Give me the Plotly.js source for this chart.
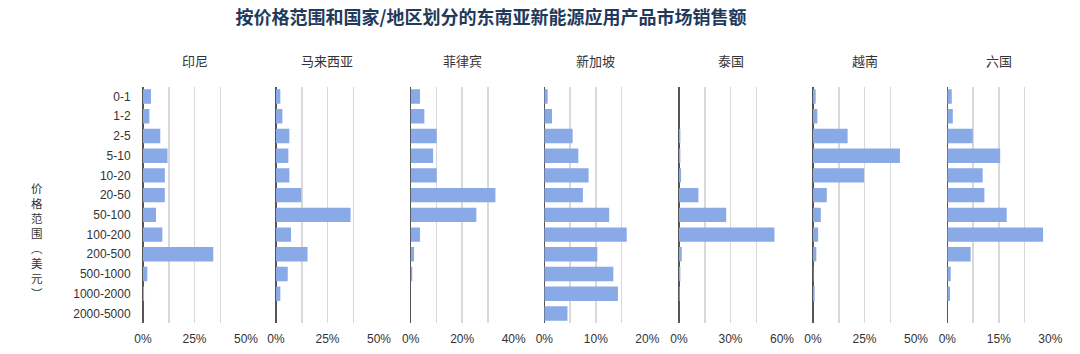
<!DOCTYPE html>
<html>
<head>
<meta charset="utf-8">
<script src="https://cdn.plot.ly/plotly-3.0.1.min.js"></script>
<style>html,body{margin:0;padding:0;background:#fff;}#chart{width:1080px;height:354px;}</style>
</head>
<body>
<div id="chart"></div>
<script>
// Price ranges (USD)
const categories = ['0-1','1-2','2-5','5-10','10-20','20-50','50-100','100-200','200-500','500-1000','1000-2000','2000-5000'];
// Country / region names
const countries = ['印尼','马来西亚','菲律宾','新加坡','泰国','越南','六国'];
// Share of market sales by price range (%)
const indonesia   = [3.9, 3.1, 8.4, 11.9, 10.6, 10.6, 6.3, 9.4, 34.1, 2.1, 0.5, 0];
const malaysia    = [2.1, 3.1, 6.5, 6.0, 6.5, 12.3, 36.2, 7.3, 15.3, 5.7, 2.1, 0];
const philippines = [3.6, 5.3, 10.1, 8.7, 10.1, 32.9, 25.5, 3.6, 1.3, 0.6, 0, 0];
const singapore   = [0.65, 1.5, 5.5, 6.6, 8.6, 7.5, 12.6, 16.0, 10.3, 13.4, 14.3, 4.5];
const thailand    = [0, 0, 0.8, 0.8, 1.2, 11.3, 27.5, 55.6, 1.6, 0.8, 0.4, 0];
const vietnam     = [1.3, 2.1, 16.8, 42.2, 24.8, 6.7, 3.8, 2.5, 1.6, 0.2, 0.8, 0];
const sixCountries= [1.3, 1.6, 7.4, 15.4, 10.3, 10.8, 17.3, 27.9, 6.8, 1.0, 0.8, 0];
const seriesList = [indonesia, malaysia, philippines, singapore, thailand, vietnam, sixCountries];
// Axis maxima and label step per panel (%)
const axisMax  = [50, 50, 40, 20, 60, 50, 30];
const tickStep = [25, 25, 20, 10, 30, 25, 15];
// Vertical y-axis title, one glyph per line
const yTitleChars = ['价','格','范','围','︵','美','元','︶'];

const W = 1080, H = 354;
const panelLeft = [143, 276, 410.7, 544.3, 679, 813, 947.3];
const panelW = 103;
const yTop = 86.7, yBot = 323.3;
const yDom = [(H - yBot) / H, (H - yTop) / H];

const font = 'Liberation Sans, Arial, "Noto Sans CJK SC", sans-serif';
const cjk = '"Noto Sans CJK SC", "Liberation Sans", sans-serif';

const traces = [];
const layout = {
  width: W, height: H,
  margin: {l: 0, r: 0, t: 0, b: 0},
  paper_bgcolor: '#fff', plot_bgcolor: '#fff',
  showlegend: false,
  bargap: 0.27,
  font: {family: font, size: 12, color: '#333'},
  title: {
    text: '按价格范围和国家/地区划分的东南亚新能源应用产品市场销售额',
    x: 491 / W, xanchor: 'center', y: 1 - 18 / H, yanchor: 'middle',
    font: {family: cjk, size: 18, color: '#1f3a5c', weight: 'bold'}
  },
  yaxis: {
    type: 'category', categoryorder: 'array', categoryarray: categories,
    range: [categories.length - 0.5, -0.5],
    domain: yDom, anchor: 'x',
    showgrid: false, zeroline: false, showline: false,
    ticks: 'outside', ticklen: 9, tickcolor: 'rgba(0,0,0,0)',
    tickfont: {family: font, size: 12, color: '#333'},
    fixedrange: true
  },
  annotations: []
};

countries.forEach((name, i) => {
  const ax = i === 0 ? 'x' : 'x' + (i + 1);
  traces.push({
    type: 'bar', orientation: 'h',
    x: seriesList[i], y: categories,
    xaxis: ax, yaxis: 'y',
    marker: {color: '#89a9e7'},
    hoverinfo: 'x+y'
  });
  const d0 = panelLeft[i] / W, d1 = (panelLeft[i] + panelW) / W;
  layout[i === 0 ? 'xaxis' : 'xaxis' + (i + 1)] = {
    domain: [d0, d1], anchor: 'y',
    range: [0, axisMax[i]],
    tick0: 0, dtick: tickStep[i], ticksuffix: '%',
    showgrid: true, gridcolor: '#d9d9d9', gridwidth: 1.5,
    minor: {dtick: tickStep[i] / 2, showgrid: true, gridcolor: '#d9d9d9', gridwidth: 1.5, ticks: ''},
    zeroline: true, zerolinecolor: '#555', zerolinewidth: 1.5,
    showline: false,
    ticks: 'outside', ticklen: 4, tickcolor: 'rgba(0,0,0,0)',
    tickfont: {family: font, size: 12, color: '#333'},
    fixedrange: true
  };
  layout.annotations.push({
    text: name, xref: 'paper', yref: 'paper',
    x: (d0 + d1) / 2, y: 1 - 60 / H, xanchor: 'center', yanchor: 'middle',
    showarrow: false, font: {family: cjk, size: 13, color: '#333'}
  });
});

// vertical y-axis title: upright glyphs stacked in one text block
layout.annotations.push({
  text: yTitleChars.join('<br>'),
  xref: 'paper', yref: 'paper', x: 37 / W, y: 1 - 240 / H,
  xanchor: 'center', yanchor: 'middle', showarrow: false,
  font: {family: cjk, size: 11.5, color: '#333'}
});

Plotly.newPlot('chart', traces, layout, {displayModeBar: false, staticPlot: true});
</script>
</body>
</html>
